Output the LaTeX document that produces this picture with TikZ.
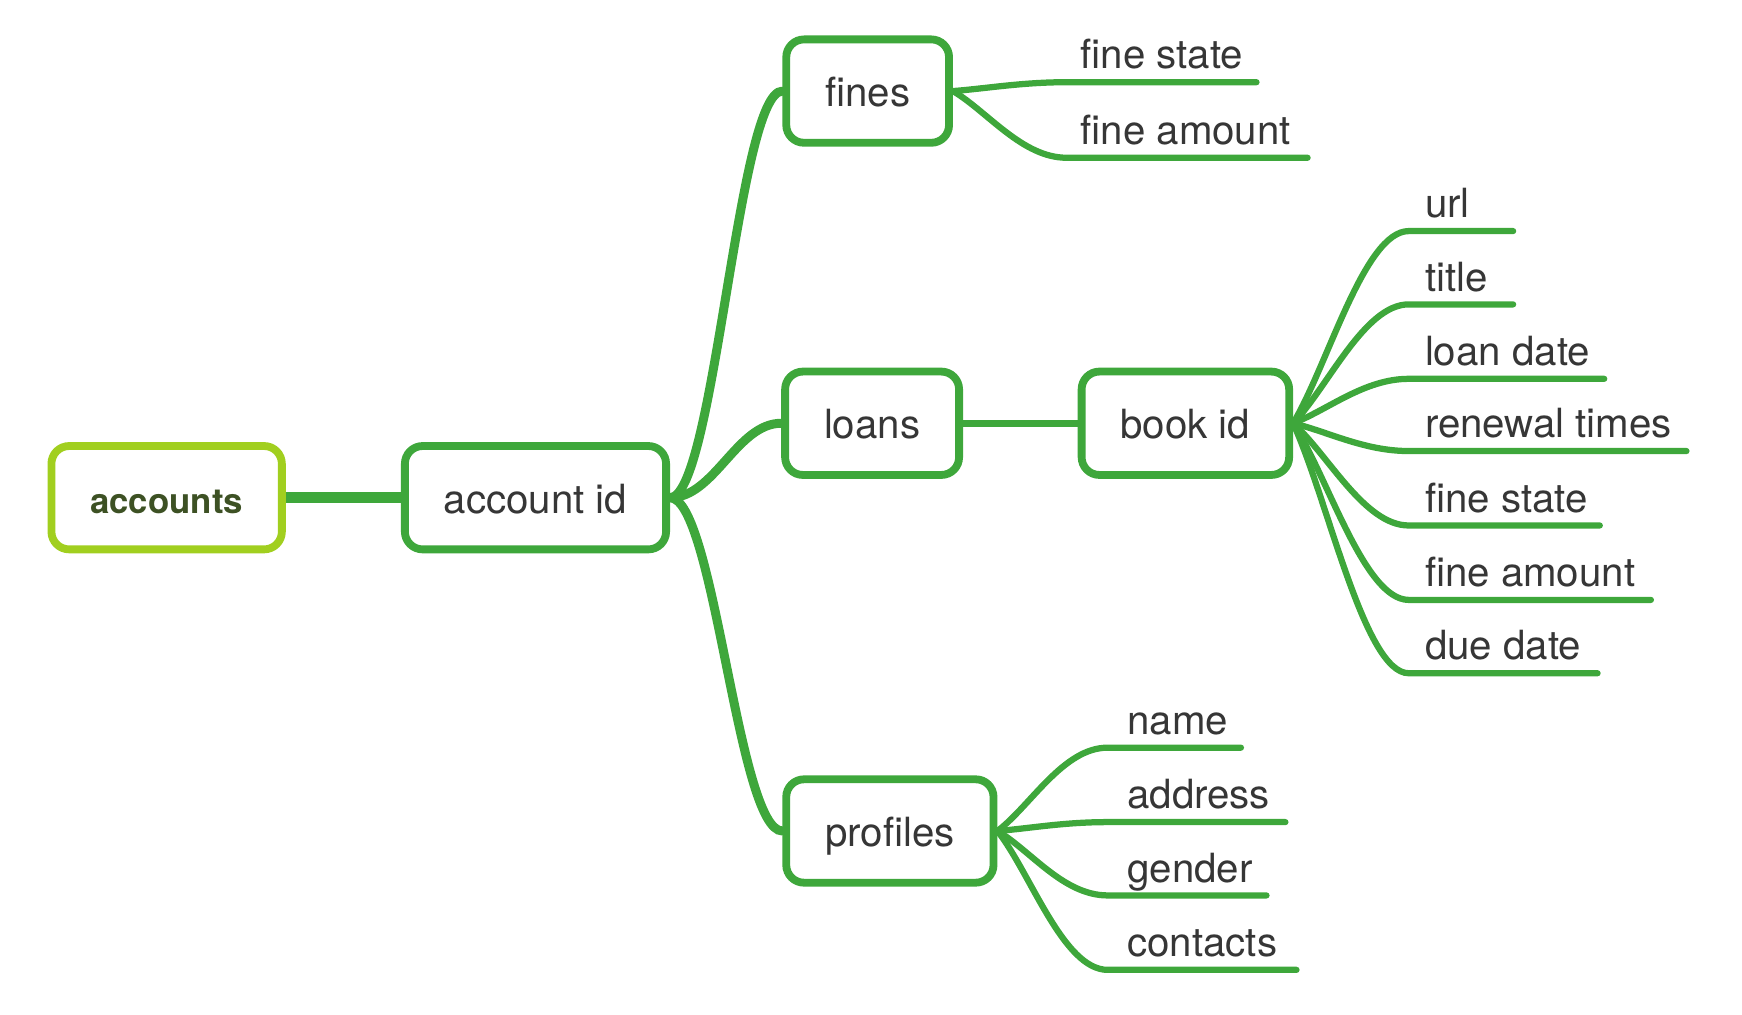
\documentclass[tikz,border=0pt]{standalone}
\usepackage{fontspec}
\setmainfont{TeX Gyre Heros}
\usetikzlibrary{calc}

\definecolor{mapgreen}{HTML}{3EA73B}
\definecolor{rootgreen}{HTML}{A1CF1F}
\definecolor{roottext}{HTML}{3D5124}
\definecolor{leaftext}{HTML}{363636}

\tikzset{
  topic/.style={draw=mapgreen, line width=2pt, rounded corners=0.16cm, fill=white,
    text=leaftext, font=\fontsize{10.3}{12}\selectfont, minimum height=0.93cm,
    inner xsep=0.35cm, text height=0.8em, text depth=0pt},
  root/.style={topic, draw=rootgreen, text=roottext, font=\fontsize{8.9}{11}\selectfont\bfseries},
  leaf/.style={anchor=base west, inner sep=0pt, text=leaftext, font=\fontsize{10.3}{12}\selectfont},
  branch/.style={draw=mapgreen, line width=2.3pt, line cap=round},
  twig/.style={draw=mapgreen, line width=1.6pt, line cap=round},
}

\begin{document}
\begin{tikzpicture}[x=0.01cm, y=-0.01cm]
    \useasboundingbox (0,0) rectangle (1568,913);

    % main topics
    \node[root]  (accounts) at (150,448) {accounts};
    \node[topic] (acctid)   at (482,448) {account id};
    \node[topic] (fines)    at (781,82)  {fines};
    \node[topic] (loans)    at (785,381) {loans};
    \node[topic] (profiles) at (801,748) {profiles};
    \node[topic] (bookid)   at (1067,381) {book id};

    \draw[draw=mapgreen, line width=2.9pt] (accounts.east) -- (acctid.west);
    \draw[draw=mapgreen, line width=1.8pt] (loans.east) -- (bookid.west);
    \foreach \child in {fines, loans, profiles}
        \draw[branch] (acctid.east) .. controls +(40,0) and +(-40,0) .. (\child.west);

    % fines
    \foreach \txt/\y/\xe [count=\i] in {fine state/74/1131, fine amount/142/1177}
    {
        \coordinate (fnA\i) at (960,\y);
        \coordinate (fnB\i) at (\xe,\y);
        \node[leaf] (fn\i) at (972,\y-12) {\txt};
        \draw[twig] (fines.east) .. controls ($(fines.east)!0.3!(fnA\i)$) and +(-40,0) .. (fnA\i) -- (fnB\i);
    }

    % book id
    \foreach \txt/\y/\xe [count=\i] in {url/208/1362, title/274/1362, loan date/341/1444,
        renewal times/406/1518, fine state/473/1440, fine amount/540/1486, due date/606/1438}
    {
        \coordinate (bkA\i) at (1268,\y);
        \coordinate (bkB\i) at (\xe,\y);
        \node[leaf] (bk\i) at (1282,\y-12) {\txt};
        \draw[twig] (bookid.east) .. controls ($(bookid.east)!0.3!(bkA\i)$) and +(-40,0) .. (bkA\i) -- (bkB\i);
    }

    % profiles
    \foreach \txt/\y/\xe [count=\i] in {name/673/1117, address/740/1157, gender/806/1140, contacts/873/1167}
    {
        \coordinate (prA\i) at (997,\y);
        \coordinate (prB\i) at (\xe,\y);
        \node[leaf] (pr\i) at (1014,\y-12) {\txt};
        \draw[twig] (profiles.east) .. controls ($(profiles.east)!0.3!(prA\i)$) and +(-40,0) .. (prA\i) -- (prB\i);
    }
\end{tikzpicture}
\end{document}
